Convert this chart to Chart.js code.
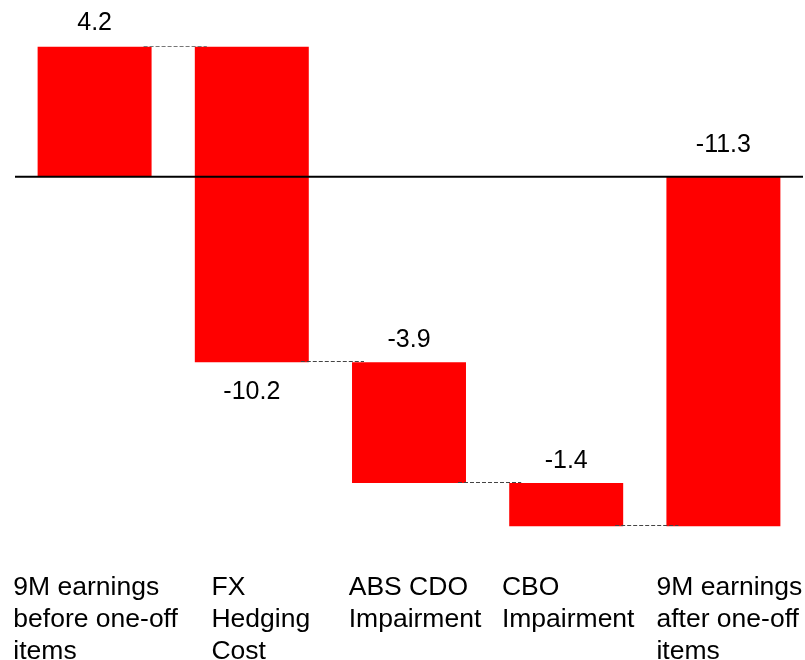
<!DOCTYPE html>
<html>
<head>
<meta charset="utf-8">
<script src="https://cdn.jsdelivr.net/npm/chart.js@4"></script>
<style>
  html, body { margin: 0; padding: 0; background: #fff; }
  #wrap { width: 805px; height: 660px; position: relative; }
</style>
</head>
<body>
<div id="wrap"><canvas id="grafico"></canvas></div>
<script>
// Datos del gráfico
const categorias = [
    ['9M earnings', 'before one-off', 'items'],
    ['FX', 'Hedging', 'Cost'],
    ['ABS CDO', 'Impairment'],
    ['CBO', 'Impairment'],
    ['9M earnings', 'after one-off', 'items']
];
const variaciones = [4.2, -10.2, -3.9, -1.4];
const totalFinal = -11.3;
const etiquetas = ['4.2', '-10.2', '-3.9', '-1.4', '-11.3'];

// Estilo de etiquetas (posición relativa a la barra)
const posEtiqueta = ['top', 'bottom', 'top', 'top', 'top'];
const sepEtiqueta = [17, 37, 15, 15, 25];
const ajusteCategoria = [1, 9, 6, 2, 6];

// Construir barras flotantes (cascada)
const barras = [];
let acumulado = 0;
variaciones.forEach(v => {
    barras.push([acumulado, acumulado + v]);
    acumulado = Math.round((acumulado + v) * 10) / 10;
});
barras.push([0, totalFinal]);

const fuente = '"Liberation Sans", Arial, sans-serif';

// Plugin: línea cero, conectores, etiquetas
const extras = {
    id: 'extras',
    afterDatasetsDraw(chart) {
        const ctx = chart.ctx;
        const y = chart.scales.y;
        const area = chart.chartArea;
        const meta = chart.getDatasetMeta(0);

        // línea del cero
        ctx.save();
        ctx.strokeStyle = '#000';
        ctx.lineWidth = 2;
        ctx.beginPath();
        ctx.moveTo(area.left - 1, y.getPixelForValue(0));
        ctx.lineTo(area.right + 1, y.getPixelForValue(0));
        ctx.stroke();

        // conectores punteados
        ctx.lineWidth = 1;
        ctx.setLineDash([4, 2]);
        for (let i = 0; i < meta.data.length - 1; i++) {
            const a = meta.data[i];
            const b = meta.data[i + 1];
            const nivel = barras[i][1];
            const py = Math.round(y.getPixelForValue(nivel)) - 0.5;
            ctx.strokeStyle = i === 0 ? '#777' : '#444';
            ctx.beginPath();
            ctx.moveTo(a.x + a.width / 2 - 8, py);
            ctx.lineTo(b.x - b.width / 2 + 12, py);
            ctx.stroke();
        }
        ctx.setLineDash([]);

        // etiquetas de valor
        ctx.fillStyle = '#000';
        ctx.font = '25px ' + fuente;
        ctx.textAlign = 'center';
        ctx.textBaseline = 'alphabetic';
        meta.data.forEach((bar, i) => {
            const arriba = Math.max(barras[i][0], barras[i][1]);
            const abajo = Math.min(barras[i][0], barras[i][1]);
            if (posEtiqueta[i] === 'top') {
                ctx.fillText(etiquetas[i], bar.x, y.getPixelForValue(arriba) - sepEtiqueta[i]);
            } else {
                ctx.fillText(etiquetas[i], bar.x, y.getPixelForValue(abajo) + sepEtiqueta[i]);
            }
        });

        // etiquetas de categoría
        ctx.font = '26.5px ' + fuente;
        ctx.textAlign = 'left';
        meta.data.forEach((bar, i) => {
            const lineas = categorias[i];
            const ancho = Math.max(...lineas.map(l => ctx.measureText(l).width));
            const x0 = bar.x - ancho / 2 + ajusteCategoria[i];
            lineas.forEach((l, j) => {
                ctx.fillText(l, x0, 595 + j * 32);
            });
        });
        ctx.restore();
    }
};

new Chart(document.getElementById('grafico'), {
    type: 'bar',
    data: {
        labels: categorias.map(c => c.join(' ')),
        datasets: [{
            data: barras,
            backgroundColor: '#FF0000',
            borderWidth: 0,
            barPercentage: 0.725,
            categoryPercentage: 1
        }]
    },
    options: {
        responsive: true,
        maintainAspectRatio: false,
        animation: false,
        layout: { padding: { left: 16, right: 3, top: 22, bottom: 112 } },
        plugins: { legend: { display: false }, tooltip: { enabled: false } },
        scales: {
            x: { display: false },
            y: { display: false, min: -12, max: 5 }
        }
    },
    plugins: [extras]
});
</script>
</body>
</html>
